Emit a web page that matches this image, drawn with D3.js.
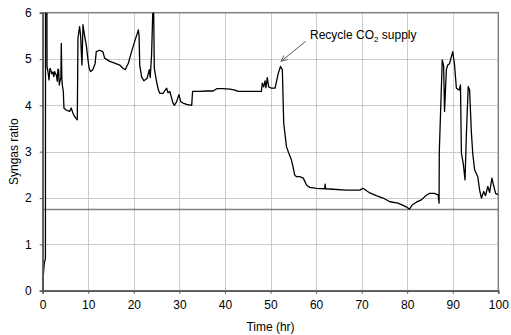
<!DOCTYPE html>
<html>
<head>
<meta charset="utf-8">
<script src="https://cdn.jsdelivr.net/npm/d3@7"></script>
<style>
  body { margin: 0; background: #fff; }
  svg { font-family: Arial, "Liberation Sans", sans-serif; }
  .axis-label { font-size: 12px; }
</style>
</head>
<body>
<svg id="chart"></svg>
<script>
// syngas ratio over time
const time = [0, 0.15, 0.35, 0.5, 0.6, 0.62, 0.92, 0.95, 1.2, 1.38, 1.6, 1.75, 2.0, 2.26, 2.45, 2.63, 2.8, 2.99,
  3.2, 3.35, 3.5, 3.64, 3.86, 4.0, 4.08, 4.2, 4.3, 4.52, 4.67, 5.18, 5.6, 5.91, 6.27, 6.64, 7.0, 7.3, 7.59,
  7.74, 8.1, 8.33, 8.5, 8.62, 8.84, 9.2, 9.57, 9.93, 10.2, 10.5, 11.0, 11.5, 11.76, 12.5, 12.9, 13.2, 13.6,
  14.7, 15.8, 16.9, 17.6, 18.1, 18.6, 18.8, 19.5, 20.2, 21.0, 21.15, 21.3, 21.7, 22.2, 22.9, 23.4, 23.6,
  23.9, 24.3, 24.5, 25.0, 25.4, 25.7, 26.4, 27.2, 27.5, 27.9, 28.6, 28.9, 29.4, 29.9, 30.3, 30.8, 31.6,
  32.7, 32.9, 34.5, 35.8, 37.4, 38.2, 39.6, 41.1, 42.2, 42.9, 45, 48.0, 48.2, 48.5, 48.8, 49.0, 49.3, 49.6,
  50.2, 51.0, 51.7, 52.2, 52.6, 52.9, 53.5, 54.0, 54.6, 55.0, 55.3, 55.7, 56.4, 57.2, 57.9, 58.6, 60.1,
  61.9, 62.0, 62.1, 63.7, 66.7, 69.6, 70.3, 71.8, 73.2, 74.7, 76.2, 78.0, 79.8, 80.5, 81.1, 82.0, 83.1,
  84.2, 84.9, 86.0, 86.8, 87.0, 87.05, 87.7, 88.0, 88.2, 88.6, 88.9, 89.3, 89.7, 90.0, 90.4, 90.8, 91.4,
  91.7, 91.9, 92.3, 92.7, 93.0, 93.4, 93.7, 94.1, 94.4, 94.8, 95.5, 95.9, 96.3, 96.8, 97.2, 97.7, 98.1,
  98.6, 98.9, 99.4, 100];
const ratio = [0, 0.35, 0.6, 0.65, 0.7, 6.5, 6.5, 4.84, 4.7, 4.55, 4.8, 4.77, 4.68, 4.72, 4.62, 4.73, 4.68, 4.66,
  4.52, 4.78, 4.77, 4.44, 4.55, 4.6, 5.34, 4.6, 4.44, 4.3, 3.94, 3.9, 3.88, 3.87, 3.94, 3.83, 3.76, 3.72, 3.69,
  5.45, 5.7, 5.5, 5.1, 4.87, 5.74, 5.5, 5.3, 4.99, 4.8, 4.73, 4.77, 4.9, 5.16, 5.19, 5.17, 5.16, 5.02,
  4.95, 4.91, 4.87, 4.8, 4.77, 4.87, 4.91, 5.16, 5.38, 5.63, 5.5, 4.87, 4.62, 4.53, 4.58, 4.77, 4.6,
  5.09, 6.5, 4.8, 4.51, 4.33, 4.26, 4.26, 4.37, 4.27, 4.3, 4.05, 4.0, 4.08, 4.23, 4.08, 4.05, 4.02,
  4.0, 4.3, 4.3, 4.31, 4.31, 4.36, 4.36, 4.35, 4.33, 4.3, 4.3, 4.3, 4.48, 4.4, 4.53, 4.38, 4.6, 4.4,
  4.37, 4.37, 4.69, 4.84, 4.77, 3.62, 3.11, 2.97, 2.82, 2.65, 2.5, 2.46, 2.46, 2.43, 2.28, 2.23, 2.21,
  2.2, 2.3, 2.2, 2.19, 2.17, 2.17, 2.21, 2.11, 2.05, 2.0, 1.92, 1.89, 1.81, 1.76, 1.85, 1.91, 1.96,
  2.06, 2.1, 2.1, 2.07, 1.89, 3.0, 4.98, 4.85, 3.87, 4.77, 4.87, 4.9, 5.05, 5.16, 4.87, 4.37, 4.33,
  4.44, 2.97, 2.75, 2.39, 3.4, 4.41, 4.33, 3.4, 2.95, 2.61, 2.46, 2.17, 2.0, 2.14, 2.05, 2.25, 2.12,
  2.43, 2.3, 2.1, 2.07];

const xTicks = [0, 10, 20, 30, 40, 50, 60, 70, 80, 90, 100];
const yTicks = [0, 1, 2, 3, 4, 5, 6];
const refLevel = 1.75;

let width = 511, height = 335;
let margin = { top: 12.7, right: 12.7, bottom: 44.3, left: 42.7 };

const svg = d3.select("#chart").attr("width", width).attr("height", height);

x = d3.scaleLinear().domain([0, 100]).range([margin.left, width - margin.right]);
y = d3.scaleLinear().domain([0, 6]).range([height - margin.bottom, margin.top]);
const crisp = v => Math.round(v) + 0.5;

svg.append("defs").append("clipPath").attr("id", "clip")
  .append("rect")
  .attr("x", x(0)).attr("y", y(6))
  .attr("width", x(100) - x(0)).attr("height", y(0) - y(6));

// dotted grid
svg.append("g")
  .selectAll("line")
  .data(xTicks.slice(1, -1))
  .join("line")
  .attr("x1", d => crisp(x(d))).attr("x2", d => crisp(x(d)))
  .attr("y1", y(0)).attr("y2", y(6))
  .attr("stroke", "#999").attr("stroke-width", 1).attr("stroke-dasharray", "1,1");
svg.append("g")
  .selectAll("line")
  .data(yTicks.slice(1, -1))
  .join("line")
  .attr("x1", x(0)).attr("x2", x(100))
  .attr("y1", d => crisp(y(d))).attr("y2", d => crisp(y(d)))
  .attr("stroke", "#999").attr("stroke-width", 1).attr("stroke-dasharray", "1,1");

// reference level
svg.append("line")
  .attr("x1", x(0)).attr("x2", x(100))
  .attr("y1", y(refLevel)).attr("y2", y(refLevel))
  .attr("stroke", "#808080").attr("stroke-width", 1.5);

// border (top / right)
svg.append("rect")
  .attr("x", x(0)).attr("y", y(6))
  .attr("width", x(100) - x(0)).attr("height", y(0) - y(6))
  .attr("fill", "none").attr("stroke", "#808080").attr("stroke-width", 1.5);

// data line
const pts = time.map((t, i) => [t, ratio[i]]);
svg.append("path")
  .datum(pts)
  .attr("clip-path", "url(#clip)")
  .attr("fill", "none")
  .attr("stroke", "#000")
  .attr("stroke-width", 1.3)
  .attr("stroke-linejoin", "round")
  .attr("d", d3.line().x(d => x(d[0])).y(d => y(d[1])));

// axes
xAxis = g => g
  .attr("transform", `translate(0, ${y(0)})`)
  .call(d3.axisBottom(x).tickValues(xTicks).tickFormat(d3.format("d")).tickSize(3).tickPadding(7))
  .call(g => g.select(".domain").attr("stroke", "#555").attr("stroke-width", 1.5));
yAxis = g => g
  .attr("transform", `translate(${x(0)},0)`)
  .call(d3.axisLeft(y).tickValues(yTicks).tickFormat(d3.format("d")).tickSize(3).tickPadding(8))
  .call(g => g.select(".domain").attr("stroke", "#555").attr("stroke-width", 1.5));

svg.append("g").call(xAxis);
svg.append("g").call(yAxis);
svg.selectAll(".tick text")
  .attr("font-size", "12px")
  .attr("font-family", "Arial, 'Liberation Sans', sans-serif")
  .attr("fill", "#000");
svg.selectAll(".tick line").attr("stroke", "#555");

// axis titles
svg.append("text")
  .attr("class", "axis-label")
  .attr("x", (x(0) + x(100)) / 2)
  .attr("y", 331)
  .attr("text-anchor", "middle")
  .text("Time (hr)");
svg.append("text")
  .attr("class", "axis-label")
  .attr("transform", `translate(18, ${(y(0) + y(6)) / 2}) rotate(-90)`)
  .attr("text-anchor", "middle")
  .text("Syngas ratio");

// annotation
svg.append("defs").append("marker")
  .attr("id", "arrow")
  .attr("viewBox", "0 0 10 10")
  .attr("refX", 9).attr("refY", 5)
  .attr("markerWidth", 7).attr("markerHeight", 7)
  .attr("orient", "auto")
  .append("path")
  .attr("d", "M0,1 L9,5 L0,9")
  .attr("fill", "none").attr("stroke", "#555").attr("stroke-width", 1.2);
svg.append("line")
  .attr("x1", 305.5).attr("y1", 41.5)
  .attr("x2", x(52.3)).attr("y2", y(4.95))
  .attr("stroke", "#555").attr("stroke-width", 1)
  .attr("marker-end", "url(#arrow)");
const ann = svg.append("text")
  .attr("x", 310).attr("y", 39)
  .attr("font-size", "12px");
ann.append("tspan").text("Recycle CO");
ann.append("tspan").attr("font-size", "8px").attr("dy", 3).text("2");
ann.append("tspan").attr("dy", -3).text(" supply");
</script>
</body>
</html>
